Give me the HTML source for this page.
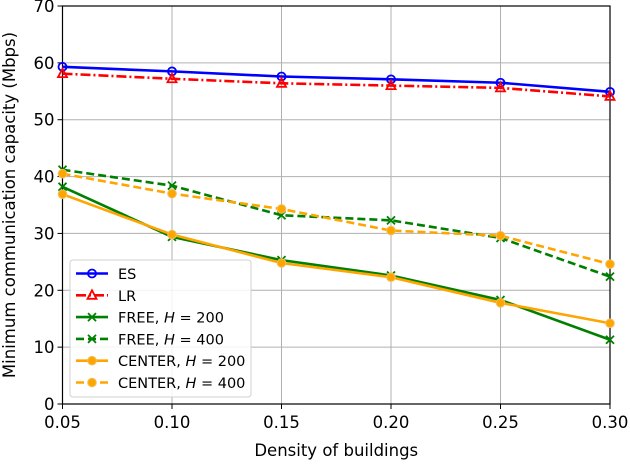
<!DOCTYPE html>
<html><head><meta charset="utf-8"><style>
body{margin:0;background:#fff;font-family:"DejaVu Sans","Liberation Sans",sans-serif;}
svg text{font-family:"DejaVu Sans","Liberation Sans",sans-serif;fill:#000;}
</style></head><body>
<svg id="chart" width="630" height="460" xmlns="http://www.w3.org/2000/svg"></svg>
<script>
const categories=[0.05,0.10,0.15,0.20,0.25,0.30];
const xTickLabels=["0.05","0.10","0.15","0.20","0.25","0.30"];
const yTicks=[0,10,20,30,40,50,60,70];
const esValues=[59.3,58.5,57.6,57.1,56.5,54.9];
const lrValues=[58.1,57.2,56.4,56.0,55.6,54.1];
const free200Values=[38.2,29.4,25.3,22.6,18.3,11.3];
const free400Values=[41.2,38.4,33.2,32.3,29.2,22.4];
const center200Values=[36.9,29.8,24.8,22.3,17.8,14.2];
const center400Values=[40.5,37.0,34.3,30.5,29.6,24.6];
const seriesNames=["ES","LR","FREE, H = 200","FREE, H = 400","CENTER, H = 200","CENTER, H = 400"];

const NS="http://www.w3.org/2000/svg";
const svg=document.getElementById('chart');
const L=62.5,R=610,T=6,B=404;
const xs=v=>L+(v-0.05)/(0.25)*(R-L);
const ys=v=>B-v/70*(B-T);
function mk(tag,attrs,parent){const e=document.createElementNS(NS,tag);for(const k in attrs)e.setAttribute(k,attrs[k]);(parent||svg).appendChild(e);return e;}

yTicks.forEach(t=>{
  const g=mk('line',{x1:L,x2:R,y1:ys(t),y2:ys(t),stroke:'#b0b0b0','stroke-width':1});
  
  
  mk('line',{x1:L-5,x2:L,y1:ys(t),y2:ys(t),stroke:'#000','stroke-width':1});
  const tx=mk('text',{x:L-8,y:ys(t)+6,'text-anchor':'end','font-size':16.5});
  tx.textContent=t;
  
  
});
categories.forEach((c,i)=>{
  const g=mk('line',{x1:xs(c),x2:xs(c),y1:T,y2:B,stroke:'#b0b0b0','stroke-width':1});
  
  
  mk('line',{x1:xs(c),x2:xs(c),y1:B,y2:B+5,stroke:'#000','stroke-width':1});
  const tx=mk('text',{x:xs(c),y:B+24,'text-anchor':'middle','font-size':16.5});
  tx.textContent=xTickLabels[i];
  
  
});
const frame=mk('rect',{x:L,y:T,width:R-L,height:B-T,fill:'none',stroke:'#000','stroke-width':1.2});



const xl=mk('text',{x:(L+R)/2,y:456,'text-anchor':'middle','font-size':16.5});
xl.textContent='Density of buildings';


const yl=mk('text',{x:0,y:0,'text-anchor':'middle','font-size':16.5,transform:`translate(15,${(T+B)/2}) rotate(-90)`});
yl.textContent='Minimum communication capacity (Mbps)';



const styles=[
 {vals:esValues,color:'#0000ff',dash:'',marker:'o',name:'series-es'},
 {vals:lrValues,color:'#ff0000',dash:'10,3,2,3',marker:'^',name:'series-lr'},
 {vals:free200Values,color:'#008000',dash:'',marker:'x',name:'series-free-200'},
 {vals:free400Values,color:'#008000',dash:'8,4',marker:'x',name:'series-free-400'},
 {vals:center200Values,color:'#ffa500',dash:'',marker:'h',name:'series-center-200'},
 {vals:center400Values,color:'#ffa500',dash:'8,4',marker:'h',name:'series-center-400'}
];
function marker(g,type,x,y,color){
  if(type==='o'){mk('circle',{cx:x,cy:y,r:4,fill:'none',stroke:color,'stroke-width':1.8},g);}
  else if(type==='^'){mk('polygon',{points:`${x},${y-5} ${x-4.5},${y+3.5} ${x+4.5},${y+3.5}`,fill:'none',stroke:color,'stroke-width':1.8},g);}
  else if(type==='x'){mk('path',{d:`M${x-4},${y-4}L${x+4},${y+4}M${x-4},${y+4}L${x+4},${y-4}`,stroke:color,'stroke-width':1.8},g);}
  else {mk('circle',{cx:x,cy:y,r:4.3,fill:color,stroke:'#f0c060','stroke-width':1},g);}
}
styles.forEach(s=>{
  const g=mk('g',{});
  
  
  const pts=s.vals.map((v,i)=>xs(categories[i])+','+ys(v)).join(' ');
  const pl=mk('polyline',{points:pts,fill:'none',stroke:s.color,'stroke-width':2.6,'stroke-dasharray':s.dash},g);
  
  s.vals.forEach((v,i)=>marker(g,s.marker,xs(categories[i]),ys(v),s.color));
});

const lg=mk('g',{});


mk('rect',{x:70,y:260,width:181,height:137,rx:3,fill:'#fff','fill-opacity':0.85,stroke:'#d0d0d0'},lg);
styles.forEach((s,i)=>{
  const y=273.5+i*21.8;
  const e=mk('g',{},lg);
  
  
  mk('line',{x1:76,x2:108,y1:y,y2:y,stroke:s.color,'stroke-width':2.6,'stroke-dasharray':s.dash},e);
  marker(e,s.marker,92,y,s.color);
  const t=mk('text',{x:118,y:y+5.5,'font-size':14.5},e);
  const nm=seriesNames[i];
  if(nm.indexOf('H')>=0){
    const parts=nm.split('H');
    t.appendChild(document.createTextNode(parts[0]));
    const it=document.createElementNS(NS,'tspan');it.setAttribute('font-style','italic');it.textContent='H';t.appendChild(it);
    t.appendChild(document.createTextNode(parts[1]));
  } else t.textContent=nm;
});
</script>
</body></html>
